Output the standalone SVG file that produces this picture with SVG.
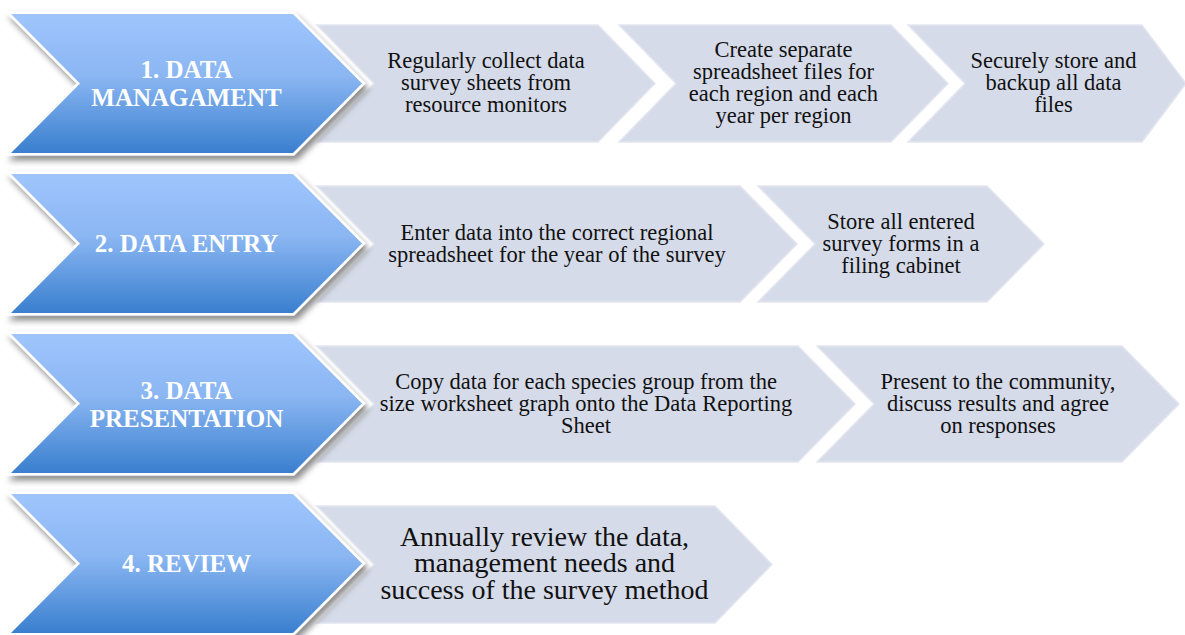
<svg xmlns="http://www.w3.org/2000/svg" width="1185" height="635" viewBox="0 0 1185 635">
  <defs>
    <linearGradient id="blueGrad" x1="0" y1="0" x2="0" y2="1">
      <stop offset="0" stop-color="#a0c5fd"/>
      <stop offset="0.45" stop-color="#8ab6f2"/>
      <stop offset="1" stop-color="#3a7fcf"/>
    </linearGradient>
    <filter id="shadow" x="-10%" y="-10%" width="125%" height="130%">
      <feDropShadow dx="3" dy="5" stdDeviation="3" flood-color="#000" flood-opacity="0.45"/>
    </filter>
  </defs>
  <style>
    .task { fill: #d6dbe9; stroke: #e3e6f0; stroke-width: 1.5; }
    .step { fill: url(#blueGrad); stroke: #ffffff; stroke-width: 5; paint-order: stroke; filter: url(#shadow); }
    .stepText { font-family: "Liberation Serif", "DejaVu Serif", serif; font-weight: bold; font-size: 25px; fill: #ffffff; text-anchor: middle; }
    .taskText { font-family: "Liberation Serif", "DejaVu Serif", serif; font-size: 22.5px; fill: #111111; text-anchor: middle; }
    .taskTextLg { font-family: "Liberation Serif", "DejaVu Serif", serif; font-size: 28px; fill: #111111; text-anchor: middle; }
  </style>
  <rect width="1185" height="635" fill="#ffffff"/>

  <!-- Row 1 tasks -->
  <g id="task1a">
    <polygon class="task" points="317,25 598,25 655,83.5 598,142 317,142 374,83.5"/>
    <text class="taskText" x="486" y="68">Regularly collect data</text>
    <text class="taskText" x="486" y="90">survey sheets from</text>
    <text class="taskText" x="486" y="112">resource monitors</text>
  </g>
  <g id="task1b">
    <polygon class="task" points="619,25 891,25 948,83.5 891,142 619,142 676,83.5"/>
    <text class="taskText" x="783.5" y="57">Create separate</text>
    <text class="taskText" x="783.5" y="79">spreadsheet files for</text>
    <text class="taskText" x="783.5" y="101">each region and each</text>
    <text class="taskText" x="783.5" y="123">year per region</text>
  </g>
  <g id="task1c">
    <polygon class="task" points="908,25 1142,25 1186,83.5 1142,142 908,142 965,83.5"/>
    <text class="taskText" x="1053.5" y="68">Securely store and</text>
    <text class="taskText" x="1053.5" y="90">backup all data</text>
    <text class="taskText" x="1053.5" y="112">files</text>
  </g>

  <!-- Row 2 tasks -->
  <g id="task2a">
    <polygon class="task" points="317,186 740,186 797,244 740,302 317,302 374,244"/>
    <text class="taskText" x="557" y="239.5">Enter data into the correct regional</text>
    <text class="taskText" x="557" y="261.5">spreadsheet for the year of the survey</text>
  </g>
  <g id="task2b">
    <polygon class="task" points="758,186 987,186 1044,244 987,302 758,302 815,244"/>
    <text class="taskText" x="901" y="228.5">Store all entered</text>
    <text class="taskText" x="901" y="250.5">survey forms in a</text>
    <text class="taskText" x="901" y="272.5">filing cabinet</text>
  </g>

  <!-- Row 3 tasks -->
  <g id="task3a">
    <polygon class="task" points="317,346 798,346 855,404 798,462 317,462 374,404"/>
    <text class="taskText" x="586" y="388.5">Copy data for each species group from the</text>
    <text class="taskText" x="586" y="410.5">size worksheet graph onto the Data Reporting</text>
    <text class="taskText" x="586" y="432.5">Sheet</text>
  </g>
  <g id="task3b">
    <polygon class="task" points="817,346 1122,346 1179,404 1122,462 817,462 874,404"/>
    <text class="taskText" x="998" y="388.5">Present to the community,</text>
    <text class="taskText" x="998" y="410.5">discuss results and agree</text>
    <text class="taskText" x="998" y="432.5">on responses</text>
  </g>

  <!-- Row 4 task -->
  <g id="task4a">
    <polygon class="task" points="317,506 715,506 772,564.5 715,623 317,623 374,564.5"/>
    <text class="taskTextLg" x="544.5" y="545.5">Annually review the data,</text>
    <text class="taskTextLg" x="544.5" y="572">management needs and</text>
    <text class="taskTextLg" x="544.5" y="598.5">success of the survey method</text>
  </g>

  <!-- Blue step chevrons -->
  <g id="step1">
    <polygon class="step" points="11,14 293,14 362,83.5 293,153 11,153 80,83.5"/>
    <text class="stepText" x="186.5" y="78">1. DATA</text>
    <text class="stepText" x="186.5" y="106">MANAGAMENT</text>
  </g>
  <g id="step2">
    <polygon class="step" points="11,174 293,174 362,243.5 293,313 11,313 80,243.5"/>
    <text class="stepText" x="186.5" y="252">2. DATA ENTRY</text>
  </g>
  <g id="step3">
    <polygon class="step" points="11,334 293,334 362,403.5 293,473 11,473 80,403.5"/>
    <text class="stepText" x="186.5" y="399">3. DATA</text>
    <text class="stepText" x="186.5" y="427">PRESENTATION</text>
  </g>
  <g id="step4">
    <polygon class="step" points="11,494 293,494 362,563.5 293,633 11,633 80,563.5"/>
    <text class="stepText" x="186.5" y="572">4. REVIEW</text>
  </g>
</svg>
